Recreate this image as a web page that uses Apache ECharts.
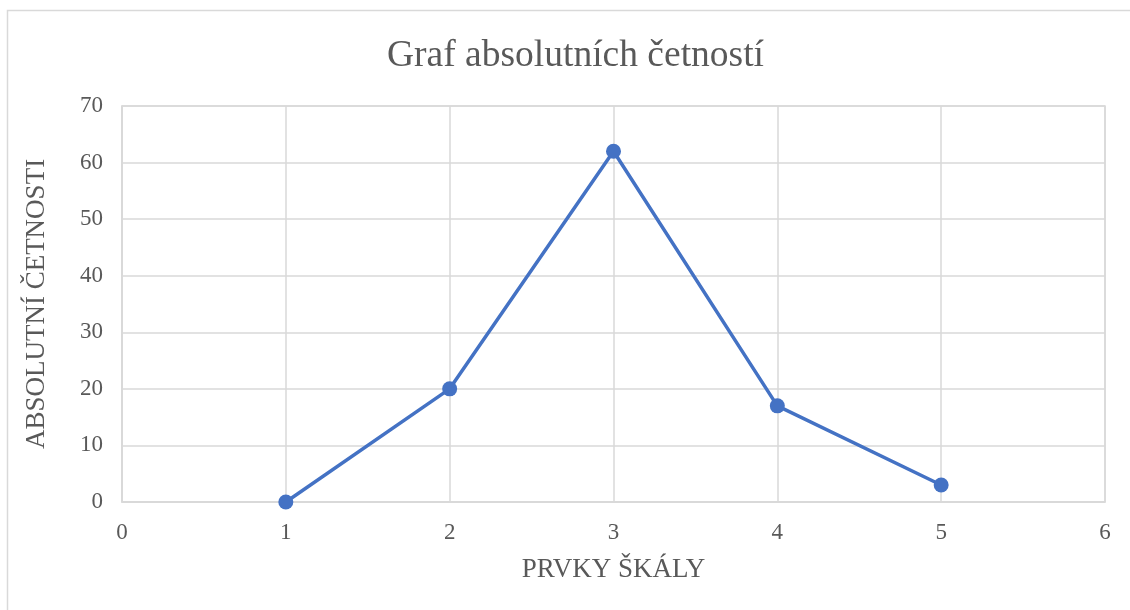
<!DOCTYPE html>
<html>
<head>
<meta charset="utf-8">
<script src="https://cdn.jsdelivr.net/npm/echarts@6/dist/echarts.min.js"></script>
<style>
  html, body { margin: 0; padding: 0; background: #ffffff; }
  #chart { width: 1130px; height: 610px; }
</style>
</head>
<body>
<div id="chart"></div>
<script>
// Scale elements (x) and their absolute frequencies (y)
const scaleItems = [1, 2, 3, 4, 5];
const frequencies = [0, 20, 62, 17, 3];
const xTicks = [0, 1, 2, 3, 4, 5, 6];
const yTicks = [0, 10, 20, 30, 40, 50, 60, 70];

const points = scaleItems.map((x, i) => [x, frequencies[i]]);
const serif = '"Liberation Serif", "DejaVu Serif", serif';
const textColor = '#595959';
const gridColor = '#d9d9d9';

const chart = echarts.init(document.getElementById('chart'));
chart.setOption({
  animation: false,
  backgroundColor: '#ffffff',
  graphic: [{
    type: 'rect',
    shape: { x: 7.5, y: 10.5, width: 1140, height: 620 },
    style: { fill: 'none', stroke: gridColor, lineWidth: 1.5 },
    silent: true,
    z: -1
  }],
  title: {
    text: 'Graf absolutních četností',
    left: 382,
    top: 32,
    textStyle: { fontFamily: serif, fontSize: 37.5, fontWeight: 'normal', color: textColor }
  },
  grid: { left: 122, right: 25, top: 106, bottom: 108, show: true, borderColor: gridColor, borderWidth: 1.5 },
  xAxis: {
    type: 'value',
    min: xTicks[0],
    max: xTicks[xTicks.length - 1],
    interval: 1,
    name: 'PRVKY ŠKÁLY',
    nameLocation: 'middle',
    nameGap: 54,
    nameTextStyle: { fontFamily: serif, fontSize: 27, color: textColor },
    axisLine: { show: true, lineStyle: { color: gridColor, width: 1.5 } },
    axisTick: { show: false },
    axisLabel: { fontFamily: serif, fontSize: 23, color: textColor, margin: 19 },
    splitLine: { show: true, lineStyle: { color: gridColor, width: 1.5 } }
  },
  yAxis: {
    type: 'value',
    min: yTicks[0],
    max: yTicks[yTicks.length - 1],
    interval: 10,
    name: 'ABSOLUTNÍ ČETNOSTI',
    nameLocation: 'middle',
    nameGap: 72,
    nameTextStyle: { fontFamily: serif, fontSize: 27, color: textColor },
    axisLine: { show: true, lineStyle: { color: gridColor, width: 1.5 } },
    axisTick: { show: false },
    axisLabel: { fontFamily: serif, fontSize: 23, color: textColor, margin: 19 },
    splitLine: { show: true, lineStyle: { color: gridColor, width: 1.5 } }
  },
  series: [{
    type: 'line',
    data: points,
    symbol: 'circle',
    symbolSize: 15,
    lineStyle: { color: '#4472C4', width: 3.5 },
    itemStyle: { color: '#4472C4' }
  }]
});
</script>
</body>
</html>
